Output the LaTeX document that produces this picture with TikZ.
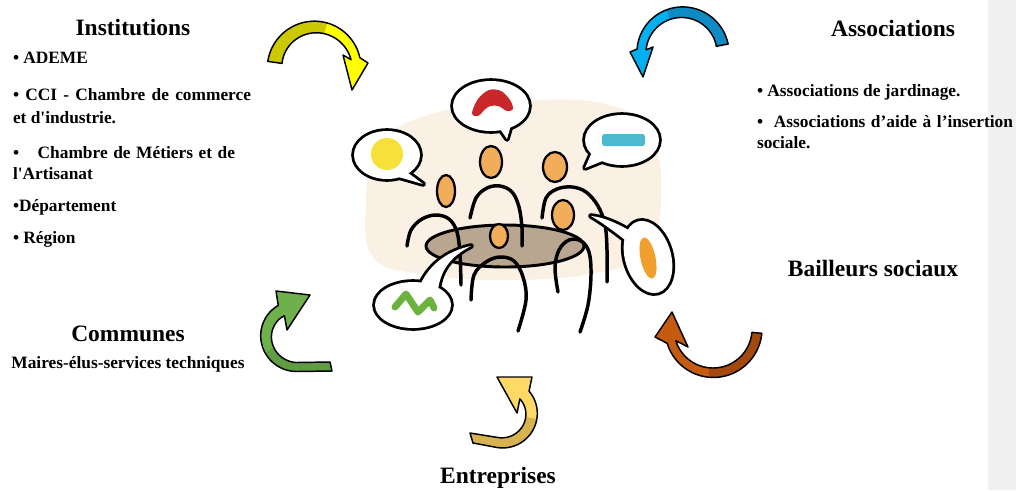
\documentclass[tikz,border=0pt]{standalone}
\usepackage{fontspec}
\newfontfamily\docserif{Liberation Serif}
\usetikzlibrary{calc}

\definecolor{stripgray}{RGB}{240,240,240}
\definecolor{blobpeach}{RGB}{251,240,228}
\definecolor{tablebrown}{RGB}{184,166,145}
\definecolor{headorange}{RGB}{242,173,91}
\definecolor{chevronred}{RGB}{200,40,42}
\definecolor{dotyellow}{RGB}{247,224,58}
\definecolor{barblue}{RGB}{76,185,208}
\definecolor{squigglegreen}{RGB}{108,178,62}
\definecolor{droporange}{RGB}{242,160,45}
% ribbon arrow colours: head part / twisted tail part
\definecolor{yelhead}{RGB}{255,255,0}
\definecolor{yeltail}{RGB}{204,200,0}
\definecolor{bluhead}{RGB}{0,176,240}
\definecolor{blutail}{RGB}{14,138,196}
\definecolor{grnhead}{RGB}{110,176,76}
\definecolor{grntail}{RGB}{96,156,66}
\definecolor{brnhead}{RGB}{197,90,17}
\definecolor{brntail}{RGB}{163,73,14}
\definecolor{golhead}{RGB}{255,217,102}
\definecolor{goltail}{RGB}{214,178,80}

% parameters of the current ribbon arrow: centre, tail/head angle, radii, half widths, colour switch angle
\newcommand\arrowparams[9]{%
  \def\acx{#1}\def\acy{#2}\def\aT{#3}\def\aH{#4}\def\rT{#5}\def\rH{#6}%
  \def\wT{#7}\def\wH{#8}\def\aM{#9}}

% ribbon arrow from named points <p>To, <p>Ti (tail) and <p>Bo, <p>Tip, <p>Bi (head)
\newcommand\drawarrow[3]{%
  \fill[#2] (#1To)
    -- plot[domain=\aT:\aH,samples=40,variable=\t]
       ({\acx+(ribrad(\t)+ribwid(\t))*cos(\t)},{\acy+(ribrad(\t)+ribwid(\t))*sin(\t)})
    -- (#1Bo) -- (#1Tip) -- (#1Bi)
    -- plot[domain=\aH:\aT,samples=40,variable=\t]
       ({\acx+(ribrad(\t)-ribwid(\t))*cos(\t)},{\acy+(ribrad(\t)-ribwid(\t))*sin(\t)})
    -- (#1Ti) -- cycle;
  \fill[#3] (#1To)
    -- plot[domain=\aT:\aM,samples=30,variable=\t]
       ({\acx+(ribrad(\t)+ribwid(\t))*cos(\t)},{\acy+(ribrad(\t)+ribwid(\t))*sin(\t)})
    -- plot[domain=\aM:\aT,samples=30,variable=\t]
       ({\acx+(ribrad(\t)-ribwid(\t))*cos(\t)},{\acy+(ribrad(\t)-ribwid(\t))*sin(\t)})
    -- (#1Ti) -- cycle;
  \draw[arrowedge] (#1To)
    -- plot[domain=\aT:\aH,samples=40,variable=\t]
       ({\acx+(ribrad(\t)+ribwid(\t))*cos(\t)},{\acy+(ribrad(\t)+ribwid(\t))*sin(\t)})
    -- (#1Bo) -- (#1Tip) -- (#1Bi)
    -- plot[domain=\aH:\aT,samples=40,variable=\t]
       ({\acx+(ribrad(\t)-ribwid(\t))*cos(\t)},{\acy+(ribrad(\t)-ribwid(\t))*sin(\t)})
    -- (#1Ti) -- cycle;
}

\begin{document}
\begin{tikzpicture}[x=0.75pt,y=-0.75pt,
  declare function={
    ribrad(\u)=\rT+(\rH-\rT)*(\u-(\aT))/((\aH)-(\aT));
    ribwid(\u)=\wT+(\wH-\wT)*(\u-(\aT))/((\aH)-(\aT));
  },
  every node/.style={inner sep=0pt, outer sep=0pt},
  heading/.style={font=\docserif\bfseries\fontsize{17.6}{20}\selectfont, anchor=base},
  item/.style={font=\docserif\bfseries\fontsize{13}{15}\selectfont, anchor=base west},
  bubbleedge/.style={draw=black, line width=4.2pt, line join=round},
  head/.style={fill=headorange, draw=black, line width=1.7pt},
  limb/.style={draw=black, line width=2.6pt, line cap=round, line join=round},
  arrowedge/.style={draw=black, line width=1.1pt, line join=round},
]
\useasboundingbox (0,0) rectangle (1016,490);
\fill[white] (0,0) rectangle (1016,490);
\fill[stripgray] (988,0) rectangle (1016,490);

% ---------- meeting scene ----------
\fill[blobpeach] plot[smooth cycle, tension=0.7] coordinates
  {(366,205) (377,148) (428,115) (520,101) (610,105) (651,138) (661,195) (647,252) (590,274) (500,280) (420,274) (373,257)};

\draw[fill=tablebrown, line width=2.2pt] (505,246) ellipse [x radius=79, y radius=21];

% bodies
\draw[limb] plot[smooth, tension=0.6] coordinates {(407,246) (411,230) (422,219) (436,215) (449,219) (457,232) (460,255) (461,285)};
\draw[limb] plot[smooth, tension=0.6] coordinates {(470,218) (476,198) (487,188) (500,186) (512,192) (519,207) (522,228) (522,246)};
\draw[limb] plot[smooth, tension=0.6] coordinates {(542,218) (546,198) (557,189) (572,187) (586,192) (598,206) (605,225) (607,250) (607,282)};
\draw[limb] plot[smooth, tension=0.6] coordinates {(558,292) (555,268) (559,250) (569,240) (581,241) (589,252) (591,275) (588,305) (580,332)};
\draw[limb] plot[smooth, tension=0.6] coordinates {(471,300) (474,275) (486,262) (500,257) (514,261) (523,277) (526,300) (518,331)};

% heads
\filldraw[head] (446,191) ellipse [x radius=9, y radius=16];
\filldraw[head] (491,162) ellipse [x radius=11, y radius=16];
\filldraw[head] (555,167) ellipse [x radius=12, y radius=15];
\filldraw[head] (563,215) ellipse [x radius=11, y radius=15];
\filldraw[head] (499,236) ellipse [x radius=9, y radius=12];

% speech bubbles: thick outline of bubble and tail, then white fill
\draw[bubbleedge] (491,106) ellipse [x radius=38, y radius=25];
\draw[bubbleedge] (498,126) -- (507,139) -- (511,125) -- cycle;
\draw[bubbleedge] (387,155) ellipse [x radius=33, y radius=24];
\draw[bubbleedge] (404,170) -- (423,184) -- (395,176) -- cycle;
\draw[bubbleedge] (622,140) ellipse [x radius=37, y radius=25];
\draw[bubbleedge] (593,150) -- (585,168) -- (605,160) -- cycle;
\draw[bubbleedge] (413,305) ellipse [x radius=38, y radius=23];
\draw[bubbleedge] (418,290) .. controls (428,264) and (448,251) .. (471,246)
  .. controls (452,256) and (441,268) .. (438,290) -- cycle;
\draw[bubbleedge, rotate around={16:(648,257)}] (648,257) ellipse [x radius=23, y radius=37];
\draw[bubbleedge] (632,232) .. controls (615,222) and (602,217) .. (591,216)
  .. controls (608,226) and (622,238) .. (636,248) -- cycle;

\fill[white] (491,106) ellipse [x radius=38, y radius=25];
\fill[white] (498,126) -- (507,139) -- (511,125) -- cycle;
\fill[white] (387,155) ellipse [x radius=33, y radius=24];
\fill[white] (404,170) -- (423,184) -- (395,176) -- cycle;
\fill[white] (622,140) ellipse [x radius=37, y radius=25];
\fill[white] (593,150) -- (585,168) -- (605,160) -- cycle;
\fill[white] (413,305) ellipse [x radius=38, y radius=23];
\fill[white] (418,290) .. controls (428,264) and (448,251) .. (471,246)
  .. controls (452,256) and (441,268) .. (438,290) -- cycle;
\fill[white, rotate around={16:(648,257)}] (648,257) ellipse [x radius=23, y radius=37];
\fill[white] (632,232) .. controls (615,222) and (602,217) .. (591,216)
  .. controls (608,226) and (622,238) .. (636,248) -- cycle;

% bubble contents
\fill[chevronred] plot[smooth cycle, tension=0.55] coordinates
  {(472,113) (478,99) (489,90) (501,91) (510,100) (513,109) (507,111) (498,106) (488,107) (478,116)};
\fill[dotyellow] (387,154) circle [radius=16];
\fill[barblue, rounded corners=2pt] (602,134) rectangle (645,146);
\draw[squigglegreen, line width=5.2pt, line cap=round, line join=round]
  (395,307) -- (406,294) -- (418,312) -- (430,300) -- (434,308);
\fill[droporange, rotate around={12:(648,258)}] (648,258) ellipse [x radius=7.5, y radius=21];

% ---------- curved arrows ----------
% yellow, top left
\coordinate (yTo) at (267.8,61.4);
\coordinate (yTi) at (282,63.4);
\coordinate (yBo) at (368,63);
\coordinate (yTip) at (352,90);
\coordinate (yBi) at (343,55);
\arrowparams{315}{68}{188}{347}{40.5}{41.5}{7.2}{4.5}{285}
\drawarrow{y}{yelhead}{yeltail}

% blue, top right
\coordinate (bTo) at (728,44);
\coordinate (bTi) at (716.4,46.3);
\coordinate (bBo) at (630,52);
\coordinate (bTip) at (643,77);
\coordinate (bBi) at (653,47);
\arrowparams{682}{53}{349}{185}{41}{40.6}{6}{4.5}{250}
\drawarrow{b}{bluhead}{blutail}

% green, left
\coordinate (gTo) at (332,371);
\coordinate (gTi) at (330,362);
\coordinate (gBo) at (276,291);
\coordinate (gTip) at (310,295);
\coordinate (gBi) at (287,330);
\arrowparams{296}{335}{90}{239}{32}{28.5}{4.5}{6}{150}
\drawarrow{g}{grnhead}{grntail}

% brown, right
\coordinate (rTo) at (761.8,333.3);
\coordinate (rTi) at (751.9,332.4);
\coordinate (rBo) at (655,337);
\coordinate (rTip) at (672,312);
\coordinate (rBi) at (688,347);
\arrowparams{713}{329}{5}{162.6}{44}{43.5}{5}{4.5}{95}
\drawarrow{r}{brnhead}{brntail}

% gold, bottom
\coordinate (oTo) at (473,443);
\coordinate (oTi) at (470,433);
\coordinate (oBo) at (532,377);
\coordinate (oTip) at (497,377);
\coordinate (oBi) at (517,413);
\arrowparams{503}{413}{100}{-40}{30}{28}{5}{6}{10}
\drawarrow{o}{golhead}{goltail}

% ---------- texts ----------
\node[heading] (institutions) at (133,35) {Institutions};
\node[item] (ademe) at (13,63) {• ADEME};
\node[item] (cci) at (13,100.7) {\makebox[178.5pt][s]{• CCI - Chambre de commerce}};
\node[item] (industrie) at (13,123) {et d'industrie.};
\node[item] (metiers) at (13,158) {\makebox[166.5pt][s]{•\hspace{14pt}Chambre de Métiers et de}};
\node[item] (artisanat) at (13,179.5) {l'Artisanat};
\node[item] (departement) at (13,211.5) {•Département};
\node[item] (region) at (13,243.5) {• Région};

\node[heading] (associations) at (893,36) {Associations};
\node[item] (jardinage) at (757,96) {• Associations de jardinage.};
\node[item] (insertion) at (757,127) {\makebox[192pt][s]{•\hspace{4pt} Associations d’aide à l’insertion}};
\node[item] (sociale) at (757,148) {sociale.};

\node[heading] (bailleurs) at (873,276.5) {Bailleurs sociaux};
\node[heading] (communes) at (128,341.5) {Communes};
\node[item, anchor=base] (maires) at (128,368) {Maires-élus-services techniques};
\node[heading] (entreprises) at (498,483) {Entreprises};
\end{tikzpicture}
\end{document}
